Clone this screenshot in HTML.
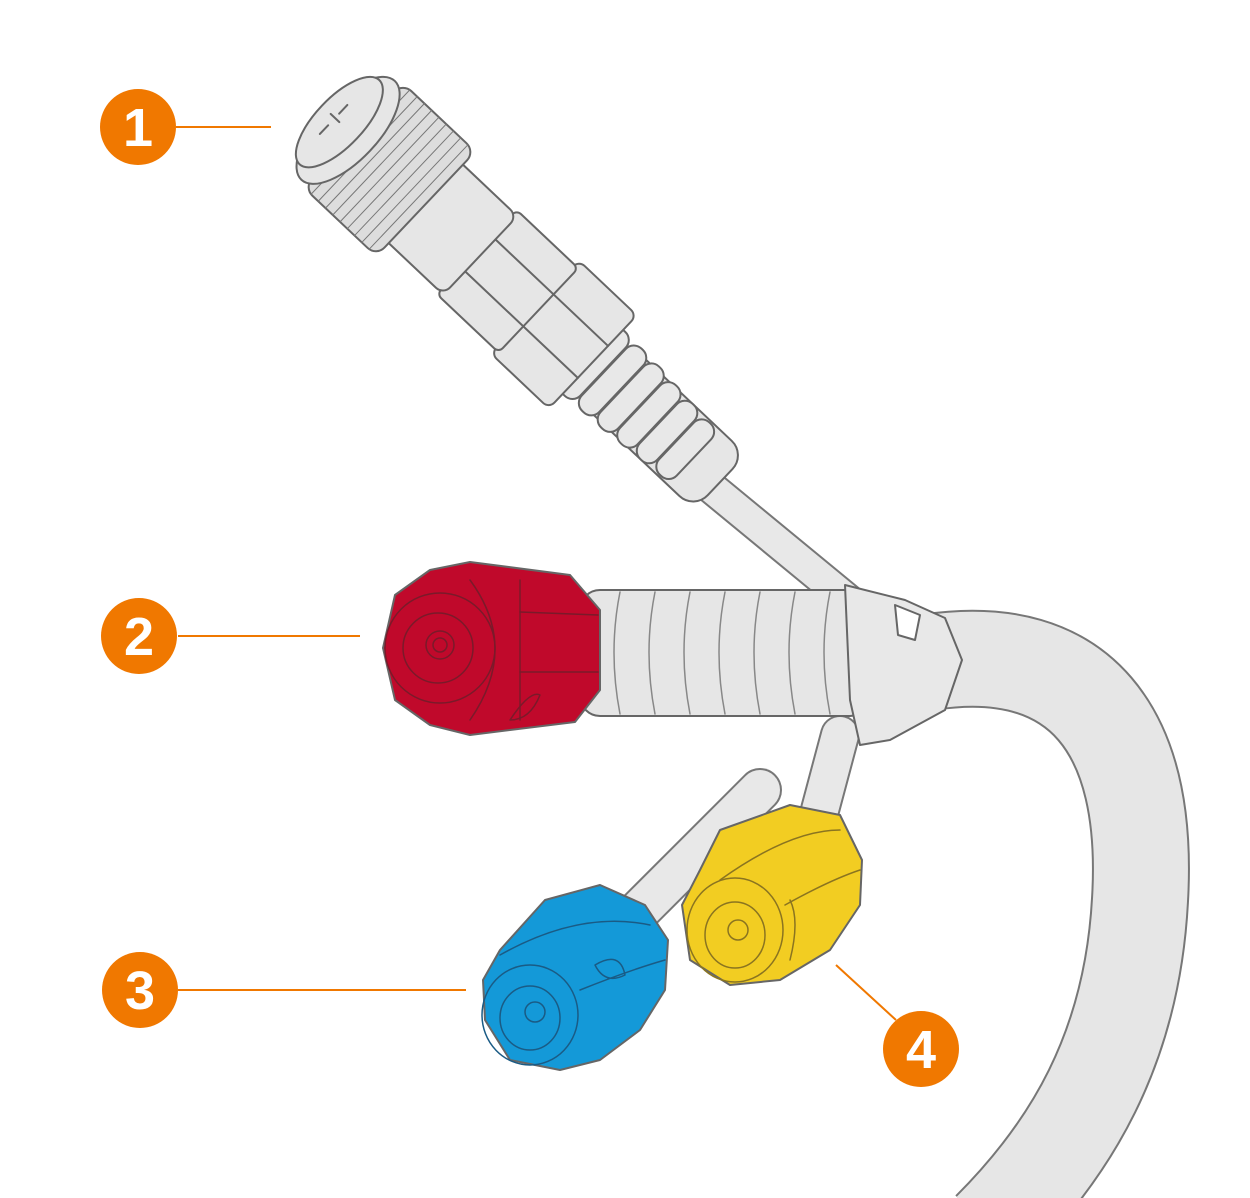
<!DOCTYPE html>
<html><head><style>
html,body{margin:0;padding:0;background:#fff;width:1250px;height:1198px;overflow:hidden}
</style></head><body>
<svg width="1250" height="1198" viewBox="0 0 1250 1198" xmlns="http://www.w3.org/2000/svg">
<g stroke-linejoin="round">
<!-- big hose -->
<path d="M 930 662 C 1080 640, 1150 730, 1140 900 C 1132 1050, 1070 1150, 990 1230" fill="none" stroke="#777" stroke-width="98"/>
<path d="M 930 662 C 1080 640, 1150 730, 1140 900 C 1132 1050, 1070 1150, 990 1230" fill="none" stroke="#e6e6e6" stroke-width="94"/>
</g>
<g stroke-linejoin="round" stroke-linecap="round">
<!-- cable 1 -->
<path d="M 690 470 L 860 610" stroke="#777" stroke-width="34"/>
<path d="M 690 470 L 860 610" stroke="#e8e8e8" stroke-width="30"/>
<!-- blue cable -->
<path d="M 760 790 L 630 920" stroke="#777" stroke-width="44"/>
<path d="M 760 790 L 630 920" stroke="#e8e8e8" stroke-width="40"/>
<path d="M 840 735 L 820 810" stroke="#777" stroke-width="40"/>
<path d="M 840 735 L 820 810" stroke="#e8e8e8" stroke-width="36"/>
<!-- connector 1 -->
<g transform="translate(335,118) rotate(43.4)" stroke="#666" stroke-width="2" fill="#e6e6e6">
<rect x="360" y="-38" width="170" height="76" rx="20"/>
<g fill="#e8e8e8">
<rect x="345" y="-44" width="24" height="88" rx="11"/>
<rect x="370" y="-43" width="24" height="86" rx="11"/>
<rect x="395" y="-42" width="24" height="84" rx="11"/>
<rect x="420" y="-40" width="24" height="80" rx="11"/>
<rect x="445" y="-38" width="24" height="76" rx="11"/>
<rect x="470" y="-36" width="24" height="72" rx="11"/>
</g>
<rect x="275" y="-64" width="80" height="128" rx="8"/>
<rect x="195" y="-58" width="85" height="116" rx="6"/>
<line x1="195" y1="-22" x2="355" y2="-22"/><line x1="195" y1="22" x2="355" y2="22"/>
<rect x="115" y="-54" width="85" height="108" rx="10"/>
<rect x="25" y="-72" width="100" height="144" rx="12" fill="#ddd"/>
<g stroke="#777" stroke-width="1">
<line x1="35" y1="-72" x2="35" y2="72"/><line x1="45" y1="-72" x2="45" y2="72"/><line x1="55" y1="-72" x2="55" y2="72"/><line x1="65" y1="-72" x2="65" y2="72"/><line x1="75" y1="-72" x2="75" y2="72"/><line x1="85" y1="-72" x2="85" y2="72"/><line x1="95" y1="-72" x2="95" y2="72"/><line x1="105" y1="-72" x2="105" y2="72"/><line x1="115" y1="-72" x2="115" y2="72"/>
</g>
<ellipse cx="18" cy="0" rx="30" ry="68"/>
<ellipse cx="6" cy="0" rx="24" ry="58"/>
<line x1="0" y1="-18" x2="0" y2="-6"/><line x1="0" y1="10" x2="0" y2="22"/><line x1="-6" y1="0" x2="6" y2="0"/>
</g>
<!-- ribbed sleeve 2 -->
<g stroke="#666" stroke-width="2" fill="#e6e6e6">
<rect x="580" y="590" width="290" height="126" rx="20"/>
<g fill="none" stroke="#888" stroke-width="1.5">
<path d="M620 592 q-12 60 0 122"/><path d="M655 592 q-12 60 0 122"/><path d="M690 592 q-12 60 0 122"/><path d="M725 592 q-12 60 0 122"/><path d="M760 592 q-12 60 0 122"/><path d="M795 592 q-12 60 0 122"/><path d="M830 592 q-12 60 0 122"/>
</g>
<path d="M845 585 L905 600 L945 618 L962 660 L945 710 L890 740 L860 745 L850 700 Z" fill="#e8e8e8"/>
<path d="M895 605 L920 615 L915 640 L898 635 Z" fill="#fff"/>
</g>
<!-- red knob -->
<g stroke="#666" stroke-width="2">
<path d="M430 570 L470 562 L570 575 L600 610 L600 690 L575 722 L470 735 L430 725 L395 700 L383 648 L395 595 Z" fill="#c0092b"/>
<g fill="none" stroke="#7a1a2a" stroke-width="1.5">
<circle cx="440" cy="648" r="55"/><circle cx="438" cy="648" r="35"/><circle cx="440" cy="645" r="14"/><circle cx="440" cy="645" r="7"/>
<path d="M470 580 Q520 648 470 720"/><path d="M520 580 L520 720"/><path d="M520 612 L598 615"/><path d="M520 672 L598 672"/>
<path d="M510 720 Q530 690 540 695 Q530 720 510 720"/>
</g>
</g>
<!-- yellow knob -->
<g stroke="#666" stroke-width="2">
<path d="M720 830 L790 805 L840 815 L862 860 L860 905 L830 950 L780 980 L730 985 L690 960 L682 905 L700 870 Z" fill="#f2cd22"/>
<g fill="none" stroke="#8a7420" stroke-width="1.5">
<ellipse cx="735" cy="930" rx="48" ry="52"/><ellipse cx="735" cy="935" rx="30" ry="33"/><circle cx="738" cy="930" r="10"/>
<path d="M720 880 Q790 830 840 830"/><path d="M785 905 Q830 880 860 870"/><path d="M790 960 Q800 920 790 900"/>
</g>
</g>
<!-- blue knob -->
<g stroke="#666" stroke-width="2">
<path d="M545 900 L600 885 L645 905 L668 940 L665 990 L640 1030 L600 1060 L560 1070 L510 1060 L485 1020 L483 980 L500 950 Z" fill="#1499d8"/>
<g fill="none" stroke="#1a5b85" stroke-width="1.5">
<ellipse cx="530" cy="1015" rx="48" ry="50"/><ellipse cx="530" cy="1018" rx="30" ry="32"/><circle cx="535" cy="1012" r="10"/>
<path d="M500 955 Q580 910 650 925"/><path d="M580 990 Q630 970 665 960"/><path d="M595 965 Q620 950 625 975 Q605 985 595 965"/>
</g>
</g>
</g>
<!-- leaders -->
<g stroke="#f07800" stroke-width="2" fill="none">
<line x1="176" y1="127" x2="271" y2="127"/>
<line x1="178" y1="636" x2="360" y2="636"/>
<line x1="178" y1="990" x2="466" y2="990"/>
<line x1="896" y1="1020" x2="836" y2="965"/>
</g>
<g fill="#f07800">
<circle cx="138" cy="127" r="38"/><circle cx="139" cy="636" r="38"/><circle cx="140" cy="990" r="38"/><circle cx="921" cy="1049" r="38"/>
</g>
<g fill="#fff" font-family="Liberation Sans, sans-serif" font-weight="bold" font-size="54" text-anchor="middle">
<text x="138" y="146">1</text><text x="139" y="655">2</text><text x="140" y="1009">3</text><text x="921" y="1068">4</text>
</g>
</svg>
</body></html>
